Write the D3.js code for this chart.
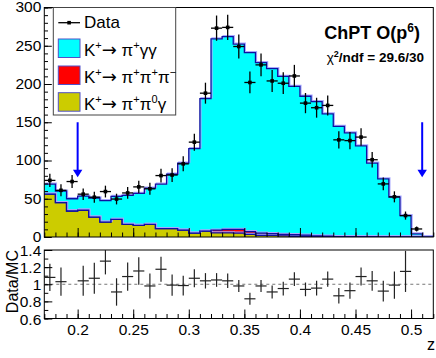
<!DOCTYPE html>
<html>
<head>
<meta charset="utf-8">
<script src="https://cdn.jsdelivr.net/npm/d3@7"></script>
<style>
  body { margin: 0; background: #fff; }
  svg text { font-family: "Liberation Sans", Arial, Helvetica, sans-serif; }
</style>
</head>
<body>
<div id="chart"></div>
<script>
// bin centres in z (bins 0.01 wide)
const binCenters = [0.175, 0.185, 0.195, 0.205, 0.215, 0.225, 0.235, 0.245, 0.255, 0.265,
                    0.275, 0.285, 0.295, 0.305, 0.315, 0.325, 0.335, 0.345, 0.355, 0.365,
                    0.375, 0.385, 0.395, 0.405, 0.415, 0.425, 0.435, 0.445, 0.455, 0.465,
                    0.475, 0.485, 0.495, 0.505, 0.515];
const binWidth = 0.01;

// MC components (stacked: pi+pi0gamma, pi+pi+pi-, pi+gammagamma)
const mcPPG = [56, 45, 34, 35, 26, 19.5, 23, 16.5, 15.3, 16.5, 11, 11, 9, 5, 7.8, 5.5, 5.5, 5, 3.5, 2,
               2, 1.5, 1, 1, 0.5, 0.5, 0.3, 0.3, 0.2, 0.2, 0.1, 0.1, 0.1, 0.1, 0];
const mcPPP = [0, 0, 0, 0, 0, 0, 0, 0, 0, 0, 0, 0, 0, 0, 0, 3.5, 4.3, 5, 3.5, 3,
               2.5, 2, 2, 1.5, 1, 0.5, 0.3, 0.2, 0.2, 0.1, 0.1, 0, 0, 0, 0];
const mcGG  = [13, 15, 16, 18.5, 25, 28, 30, 38, 41.7, 47.5, 58, 71, 87.5, 110.5, 173.2, 250, 252.2, 242, 234, 223,
               215.5, 206.5, 194, 181.5, 175.5, 160, 143.9, 135.5, 118.6, 96.2, 75.8, 51.9, 27.9, 3.9, 0];

// data
const dataCounts = [74, 61, 72.5, 56, 52, 59.4, 49.6, 57.6, 65.5, 63, 80.3, 81, 95.6, 124, 188, 273, 274, 249, 202, 225,
                    204, 201, 210.5, 175, 169, 172, 127, 126, 130.6, 101, 69.4, 52.5, 28, 10.5, null];
const dataErr = [8.6, 7.8, 8.5, 7.5, 7.2, 7.7, 7.0, 7.6, 8.1, 7.9, 9.0, 9.0, 9.8, 11.1, 13.7, 16.5, 16.6, 15.8, 14.2, 15.0,
                 14.3, 14.2, 14.5, 13.2, 13.0, 13.1, 11.3, 11.2, 11.4, 10.0, 8.3, 7.2, 5.3, 3.2, null];

// data / MC ratio
const ratio = [1.08, 1.03, null, 1.04, 1.07, 1.27, 0.91, 1.09, 1.155, 0.98, 1.175, 0.99, 0.985, 1.07, 1.04, 1.05, 1.04, 0.98, 0.83, 0.98,
               0.91, 0.95, 1.06, 0.94, 0.955, 1.06, 0.865, 0.925, 1.09, 1.04, 0.92, 0.99, 1.15, null, null];
const ratioErr = [0.16, 0.165, null, 0.175, 0.18, 0.155, 0.16, 0.165, 0.16, 0.145, 0.145, 0.125, 0.115, 0.105, 0.09, 0.08, 0.085, 0.07, 0.07, 0.07,
                  0.075, 0.08, 0.08, 0.08, 0.085, 0.09, 0.09, 0.095, 0.105, 0.115, 0.12, 0.16, 0.24, null, null];

const yTicksTop = [0, 50, 100, 150, 200, 250, 300];
const yTicksRatio = [0.6, 0.8, 1, 1.2, 1.4];
const xTicks = [0.2, 0.25, 0.3, 0.35, 0.4, 0.45, 0.5];
const arrowZ = [0.2, 0.51];

const W = 436, H = 358;
const frameL = 44.3, frameR = 433.3;
const topY0 = 7.5, topY1 = 237;
const ratY0 = 250, ratY1 = 318.5;
const fontSize = 15.5;

const svg = d3.select("#chart").append("svg")
  .attr("width", W).attr("height", H);

const x = d3.scaleLinear().domain([0.17, 0.52]).range([frameL, frameR]);
const yTop = d3.scaleLinear().domain([0, 300]).range([topY1, topY0]);
const yRat = d3.scaleLinear().domain([0.6, 1.4]).range([ratY1, ratY0]);

svg.append("clipPath").attr("id", "clipTop")
  .append("rect").attr("x", frameL).attr("y", topY0).attr("width", frameR - frameL).attr("height", topY1 - topY0);

// stacked MC
const rows = binCenters.map((c, i) => ({c: c, ppg: mcPPG[i], ppp: mcPPP[i], gg: mcGG[i]}));
const stack = d3.stack().keys(["ppg", "ppp", "gg"])(rows);
const fills = {ppg: "#cccc00", ppp: "#ff0000", gg: "#00ffff"};

function stepPoints(layer) {
  let pts = [];
  layer.forEach(d => {
    pts.push({x: d.data.c - binWidth / 2, y0: d[0], y1: d[1]});
    pts.push({x: d.data.c + binWidth / 2, y0: d[0], y1: d[1]});
  });
  return pts;
}

const area = d3.area()
  .x(d => x(d.x)).y0(d => yTop(d.y0)).y1(d => yTop(d.y1));
const topLine = d3.line()
  .x(d => x(d.x)).y(d => yTop(d.y1));

const gHist = svg.append("g").attr("clip-path", "url(#clipTop)");

stack.forEach(layer => {
  gHist.append("path")
    .attr("d", area(stepPoints(layer)))
    .attr("fill", fills[layer.key]);
});
stack.forEach(layer => {
  const pts = stepPoints(layer);
  gHist.append("path")
    .attr("d", topLine(pts))
    .attr("fill", "none")
    .attr("stroke", "#a8a8ff")
    .attr("stroke-width", 1.3)
    .attr("transform", "translate(1,-1)");
  gHist.append("path")
    .attr("d", topLine(pts))
    .attr("fill", "none")
    .attr("stroke", "#1010a0")
    .attr("stroke-width", 1.3);
});

// arrows
arrowZ.forEach(z => {
  const ax = x(z), y1 = yTop(150), y2 = yTop(78);
  svg.append("line")
    .attr("x1", ax).attr("x2", ax).attr("y1", y1).attr("y2", y2 - 6)
    .attr("stroke", "#0000ff").attr("stroke-width", 2);
  svg.append("path")
    .attr("d", "M" + (ax - 4.7) + "," + (y2 - 7.5) + "L" + (ax + 4.7) + "," + (y2 - 7.5) + "L" + ax + "," + y2 + "Z")
    .attr("fill", "#0000ff");
});

// data points
const gData = svg.append("g").attr("stroke", "#000").attr("stroke-width", 1.3);
binCenters.forEach((c, i) => {
  if (dataCounts[i] == null) return;
  const cx = x(c), cy = yTop(dataCounts[i]);
  gData.append("line")
    .attr("x1", x(c - binWidth / 2)).attr("x2", x(c + binWidth / 2))
    .attr("y1", cy).attr("y2", cy);
  gData.append("line")
    .attr("x1", cx).attr("x2", cx)
    .attr("y1", yTop(dataCounts[i] - dataErr[i])).attr("y2", yTop(dataCounts[i] + dataErr[i]));
  gData.append("rect")
    .attr("x", cx - 1.8).attr("y", cy - 1.8).attr("width", 3.6).attr("height", 3.6)
    .attr("fill", "#000").attr("stroke", "none");
});

// frames
svg.append("rect")
  .attr("x", frameL).attr("y", topY0).attr("width", frameR - frameL).attr("height", topY1 - topY0)
  .attr("fill", "none").attr("stroke", "#000").attr("stroke-width", 1);
svg.append("rect")
  .attr("x", frameL).attr("y", ratY0).attr("width", frameR - frameL).attr("height", ratY1 - ratY0)
  .attr("fill", "none").attr("stroke", "#000").attr("stroke-width", 1);

// axes helpers
const xMinor = d3.range(17, 53).map(v => v / 100);
const yMinorTop = d3.range(0, 301, 10);
const yMinorRat = d3.range(6, 15).map(v => v / 10);

function styleAxis(g) {
  g.select(".domain").remove();
  g.selectAll(".tick line").attr("stroke", "#000").attr("stroke-width", 1);
  g.selectAll("text").attr("font-size", fontSize).attr("fill", "#000")
    .attr("font-family", "Liberation Sans, Arial, sans-serif");
}

// top panel axes
svg.append("g").attr("transform", "translate(0," + topY1 + ")")
  .call(d3.axisBottom(x).tickValues(xMinor).tickSize(-4.5).tickFormat(""))
  .call(styleAxis);
svg.append("g").attr("transform", "translate(0," + topY1 + ")")
  .call(d3.axisBottom(x).tickValues(xTicks).tickSize(-9).tickFormat(""))
  .call(styleAxis);
svg.append("g").attr("transform", "translate(" + frameL + ",0)")
  .call(d3.axisLeft(yTop).tickValues(yMinorTop).tickSize(-3.7).tickFormat(""))
  .call(styleAxis);
svg.append("g").attr("transform", "translate(" + frameL + ",0)")
  .call(d3.axisLeft(yTop).tickValues(yTicksTop).tickSize(-7.5).tickPadding(3))
  .call(styleAxis)
  .selectAll("text").attr("dy", "0.28em");

// ratio panel
svg.append("line")
  .attr("x1", frameL).attr("x2", frameR).attr("y1", yRat(1)).attr("y2", yRat(1))
  .attr("stroke", "#777").attr("stroke-width", 1.2).attr("stroke-dasharray", "3,3");

const gRat = svg.append("g").attr("stroke", "#222").attr("stroke-width", 1.2);
binCenters.forEach((c, i) => {
  if (ratio[i] == null) return;
  const cx = x(c), cy = yRat(ratio[i]);
  gRat.append("line")
    .attr("x1", x(c - binWidth / 2)).attr("x2", x(c + binWidth / 2))
    .attr("y1", cy).attr("y2", cy);
  gRat.append("line")
    .attr("x1", cx).attr("x2", cx)
    .attr("y1", yRat(Math.max(0.6, ratio[i] - ratioErr[i])))
    .attr("y2", yRat(Math.min(1.4, ratio[i] + ratioErr[i])));
});

svg.append("g").attr("transform", "translate(0," + ratY1 + ")")
  .call(d3.axisBottom(x).tickValues(xMinor).tickSize(-4.5).tickFormat(""))
  .call(styleAxis);
svg.append("g").attr("transform", "translate(0," + ratY1 + ")")
  .call(d3.axisBottom(x).tickValues(xTicks).tickSize(-9).tickPadding(5.5).tickFormat(d3.format("")))
  .call(styleAxis);
svg.append("g").attr("transform", "translate(" + frameL + ",0)")
  .call(d3.axisLeft(yRat).tickValues(yMinorRat).tickSize(-4).tickFormat(""))
  .call(styleAxis);
svg.append("g").attr("transform", "translate(" + frameL + ",0)")
  .call(d3.axisLeft(yRat).tickValues(yTicksRatio).tickSize(-8).tickPadding(3).tickFormat(d3.format("")))
  .call(styleAxis)
  .selectAll("text").attr("dy", "0.36em");

// axis titles
svg.append("text")
  .attr("transform", "translate(18.3," + ratY0 + ") rotate(-90)")
  .attr("text-anchor", "end")
  .attr("font-size", 16)
  .text("Data/MC");
svg.append("text")
  .attr("x", 435).attr("y", 350)
  .attr("text-anchor", "end")
  .attr("font-size", 16)
  .text("z");

// legend
const leg = svg.append("g");
leg.append("rect")
  .attr("x", 53.3).attr("y", topY0).attr("width", 122.4).attr("height", 107.5)
  .attr("fill", "#fff").attr("stroke", "#444").attr("stroke-width", 1);

leg.append("line")
  .attr("x1", 58.3).attr("x2", 80).attr("y1", 22.7).attr("y2", 22.7)
  .attr("stroke", "#000").attr("stroke-width", 1.3);
leg.append("rect")
  .attr("x", 67.3).attr("y", 20.9).attr("width", 3.6).attr("height", 3.6).attr("fill", "#000");
leg.append("text").attr("x", 84).attr("y", 28.3).attr("font-size", 17).text("Data");

const legEntries = [
  {fill: "#00ffff", y: 39, parts: [["K", 0], ["+", 1], ["\u2192", 2], [" \u03c0", 0], ["+", 1], ["\u03b3\u03b3", 0]]},
  {fill: "#ff0000", y: 66, parts: [["K", 0], ["+", 1], ["\u2192", 2], [" \u03c0", 0], ["+", 1], ["\u03c0", 0], ["+", 1], ["\u03c0", 0], ["\u2212", 1]]},
  {fill: "#cccc00", y: 92.7, parts: [["K", 0], ["+", 1], ["\u2192", 2], [" \u03c0", 0], ["+", 1], ["\u03c0", 0], ["0", 1], ["\u03b3", 0]]}
];
legEntries.forEach(e => {
  leg.append("rect")
    .attr("x", 58.3).attr("y", e.y).attr("width", 21.7).attr("height", 18.5)
    .attr("fill", e.fill).attr("stroke", "#5050c8").attr("stroke-width", 1);
  const t = leg.append("text").attr("x", 84).attr("y", e.y + 17.3).attr("font-size", 17);
  let wasSup = false;
  e.parts.forEach(p => {
    const isSup = p[1] === 1;
    const sp = t.append("tspan").text(p[0]);
    if (isSup) sp.attr("font-size", 11);
    if (isSup && !wasSup) sp.attr("dy", -7);
    if (!isSup && wasSup) sp.attr("dy", 7);
    if (p[1] === 2) sp.attr("font-family", "DejaVu Sans").attr("font-size", 18);
    wasSup = isSup;
  });
});

// model annotation
const t1 = svg.append("text").attr("x", 420).attr("y", 38.5)
  .attr("text-anchor", "end").attr("font-size", 18).attr("font-weight", "bold");
t1.append("tspan").text("ChPT O(p");
t1.append("tspan").attr("dy", -7).attr("font-size", 12).text("6");
t1.append("tspan").attr("dy", 7).text(")");

const t2 = svg.append("text").attr("x", 424).attr("y", 61.7)
  .attr("text-anchor", "end").attr("font-size", 13.5).attr("font-weight", "bold");
t2.append("tspan").attr("font-weight", "normal").text("\u03c7");
t2.append("tspan").attr("dy", -5).attr("font-size", 9).text("2");
t2.append("tspan").attr("dy", 5).text("/ndf = 29.6/30");
</script>
</body>
</html>
